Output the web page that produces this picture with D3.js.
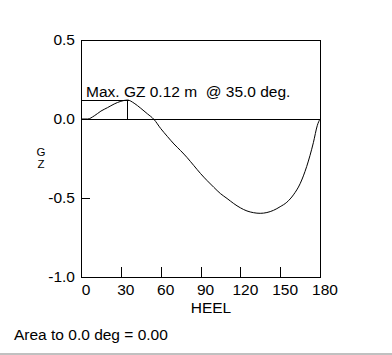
<!DOCTYPE html>
<html>
<head>
<meta charset="utf-8">
<script src="https://cdn.jsdelivr.net/npm/d3@7"></script>
<style>
  html, body { margin: 0; padding: 0; background: #fff; }
  svg { display: block; }
  text { font-family: "Liberation Sans", Arial, sans-serif; fill: #000; }
</style>
</head>
<body>
<svg id="chart" width="392" height="355"></svg>
<script>
// ---- data ----
const heel = [0, 5, 10, 15, 20, 25, 30, 35, 40, 45, 50, 55, 60, 65, 70, 75, 80, 85, 90,
              95, 100, 105, 110, 115, 120, 125, 130, 135, 140, 145, 150, 155, 160, 165, 170, 175, 178, 180];
const gz = [0, 0, 0.02, 0.05, 0.072, 0.095, 0.112, 0.12, 0.10, 0.068, 0.033, -0.003, -0.06, -0.11,
            -0.158, -0.20, -0.245, -0.295, -0.345, -0.39, -0.432, -0.472, -0.503, -0.535, -0.562,
            -0.582, -0.593, -0.597, -0.592, -0.578, -0.555, -0.527, -0.48, -0.41, -0.30, -0.15, -0.04, 0];
const xTicks = [0, 30, 60, 90, 120, 150, 180];
const yTicks = [0.5, 0.0, -0.5, -1.0];
const yTickLabels = ["0.5", "0.0", "-0.5", "-1.0"];
const maxGZ = 0.12, maxAngle = 35.0;
const maxLabel = "Max. GZ 0.12 m  @ 35.0 deg.";
const areaLabel = "Area to 0.0 deg = 0.00";
const xTitle = "HEEL";
const yTitle = ["G", "Z"];

// ---- chart ----
const FS = 15.5;
const svg = d3.select("#chart");
const x = d3.scaleLinear().domain([0, 180]).range([81, 320]);
const y = d3.scaleLinear().domain([-1, 0.5]).range([277, 40]);

// bottom gray strip
svg.append("rect").attr("x", 0).attr("y", 353).attr("width", 392).attr("height", 2).attr("fill", "#c0c0c0");

// axes
const gx = svg.append("g").attr("transform", `translate(0,${y(-1)})`)
  .call(d3.axisBottom(x).tickValues(xTicks).tickSize(-10).tickSizeOuter(0).tickPadding(7).tickFormat(d3.format("d")));
gx.select(".domain").remove();
gx.selectAll(".tick line").attr("stroke", "#000").attr("shape-rendering", "crispEdges");
gx.selectAll(".tick text").attr("dx", 4.5).attr("font-size", FS).attr("font-family", null);

const gy = svg.append("g").attr("transform", `translate(${x(0)},0)`)
  .call(d3.axisLeft(y).tickValues(yTicks).tickSize(-9).tickSizeOuter(0).tickPadding(6)
    .tickFormat((d, i) => yTickLabels[i]));
gy.select(".domain").remove();
gy.selectAll(".tick line").attr("stroke", "#000").attr("shape-rendering", "crispEdges");
gy.selectAll(".tick text").attr("font-size", FS).attr("font-family", null);

// frame
svg.append("rect")
  .attr("x", x(0) + 0.5).attr("y", y(0.5) + 0.5)
  .attr("width", x(180) - x(0)).attr("height", y(-1) - y(0.5))
  .attr("fill", "none").attr("stroke", "#000").attr("shape-rendering", "crispEdges");

// zero line
svg.append("line")
  .attr("x1", x(0)).attr("x2", x(180)).attr("y1", y(0) + 0.5).attr("y2", y(0) + 0.5)
  .attr("stroke", "#000").attr("shape-rendering", "crispEdges");

// max GZ markers
svg.append("line")
  .attr("x1", x(0)).attr("x2", x(maxAngle) + 2).attr("y1", Math.round(y(maxGZ)) + 0.5).attr("y2", Math.round(y(maxGZ)) + 0.5)
  .attr("stroke", "#000").attr("shape-rendering", "crispEdges");
svg.append("line")
  .attr("x1", Math.round(x(maxAngle)) + 0.5).attr("x2", Math.round(x(maxAngle)) + 0.5)
  .attr("y1", y(maxGZ)).attr("y2", y(0))
  .attr("stroke", "#000").attr("shape-rendering", "crispEdges");

// curve
const line = d3.line().x((d, i) => x(heel[i])).y(d => y(d)).curve(d3.curveMonotoneX);
svg.append("path").datum(gz).attr("d", line)
  .attr("fill", "none").attr("stroke", "#000").attr("stroke-width", 1);

// labels
svg.append("text").attr("x", 86).attr("y", 97).attr("font-size", FS)
  .style("white-space", "pre").text(maxLabel);
svg.append("text").attr("x", 211).attr("y", 312.5).attr("font-size", FS)
  .attr("text-anchor", "middle").text(xTitle);
svg.selectAll(".ylab").data(yTitle).enter().append("text").attr("class", "ylab")
  .attr("x", 41).attr("y", (d, i) => 156 + i * 12).attr("font-size", 11.5)
  .attr("text-anchor", "middle").text(d => d);
svg.append("text").attr("x", 14).attr("y", 340).attr("font-size", FS).text(areaLabel);
</script>
</body>
</html>
